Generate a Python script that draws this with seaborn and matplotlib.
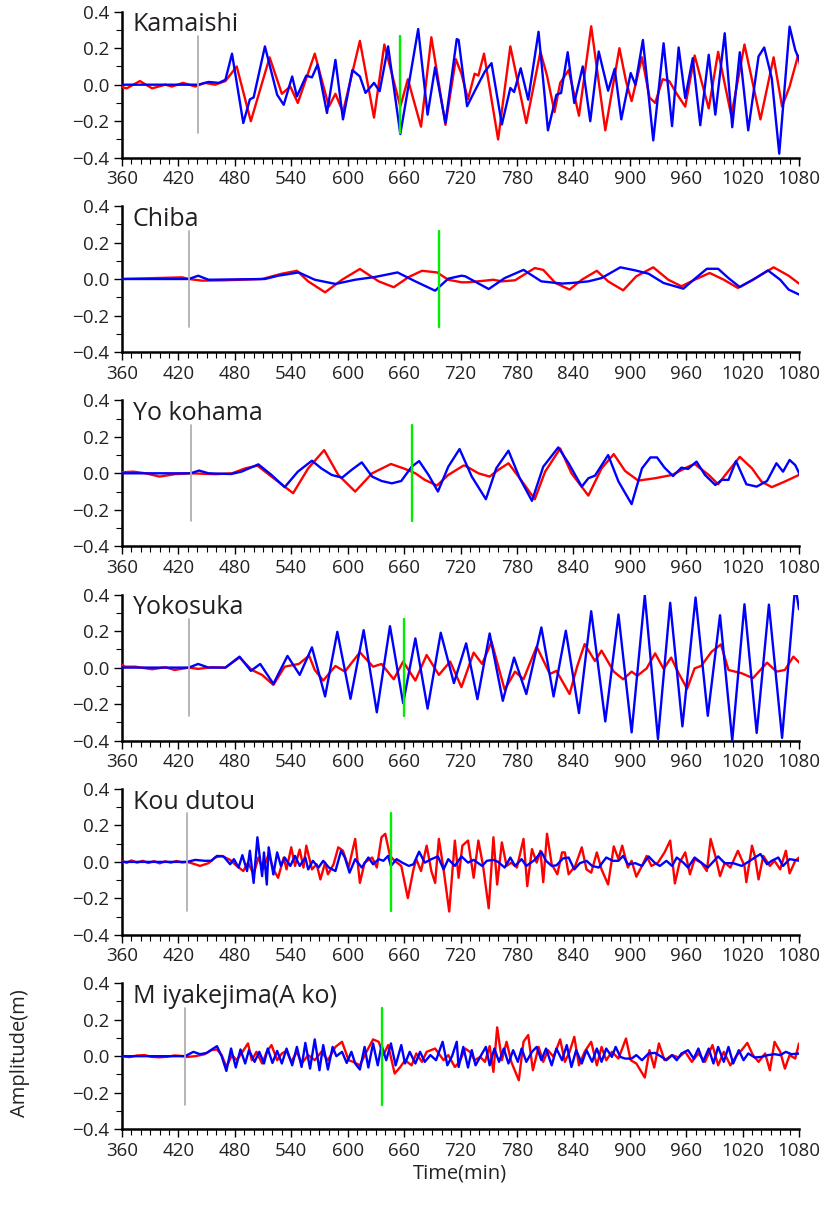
import matplotlib
matplotlib.use("Agg")
import matplotlib.pyplot as plt
import seaborn as sns
import pandas as pd
from matplotlib.ticker import MultipleLocator

sns.set_theme(style="white")
plt.rcParams['font.family'] = ['Open Sans', 'DejaVu Sans']

stations = ["Kamaishi", "Chiba", "Yo kohama", "Yokosuka", "Kou dutou", "M iyakejima(A ko)"]
gray_time = [441, 431, 433, 431, 429, 427]
green_time = [656, 697, 668, 660, 646, 637]
marker_half = [0.265, 0.262, 0.262, 0.264, 0.268, 0.266]

# ---- Kamaishi ----
kamaishi_red_t = [358, 365, 379, 392, 406, 413, 425, 438, 448, 459, 470, 482, 497, 517, 530, 539, 547, 565, 580, 587, 595,
                  613, 628, 639, 656, 664, 678, 689, 704, 715, 721, 728, 735, 739, 745, 760, 773, 790, 805, 812, 820, 826,
                  835, 846, 859, 874, 889, 896, 902, 913, 921, 927, 935, 942, 950, 959, 969, 984, 994, 1008, 1022, 1039,
                  1053, 1062, 1070, 1079, 1081]
kamaishi_red_v = [-0.01, -0.02, 0.02, -0.02, 0.0, -0.01, 0.01, -0.01, 0.01, 0.0, 0.02, 0.10, -0.20, 0.15, -0.05, -0.01, -0.10,
                  0.17, -0.12, -0.05, -0.15, 0.24, -0.18, 0.22, -0.12, 0.03, -0.23, 0.26, -0.22, 0.14, 0.06, -0.08, 0.06,
                  0.05, 0.17, -0.30, 0.21, -0.21, 0.18, 0.05, -0.15, 0.01, 0.08, -0.17, 0.32, -0.25, 0.20, 0.02, -0.09,
                  0.15, -0.07, -0.10, 0.03, 0.02, -0.05, -0.12, 0.16, -0.13, 0.18, -0.17, 0.22, -0.19, 0.15, -0.12, -0.01,
                  0.16, 0.11]
kamaishi_blue_t = [360, 441, 452, 463, 470, 477, 489, 496, 500, 512, 525, 532, 541, 546, 556, 562, 568, 578, 587, 595, 605,
                   613, 619, 628, 634, 643, 656, 675, 685, 693, 704, 716, 718, 727, 735, 746, 753, 764, 773, 777, 784, 792,
                   803, 813, 822, 827, 834, 841, 850, 858, 867, 877, 884, 891, 901, 906, 914, 925, 936, 945, 952, 959, 967,
                   975, 984, 991, 1001, 1009, 1017, 1026, 1037, 1043, 1051, 1059, 1070, 1076, 1081]
kamaishi_blue_v = [0.0, 0.0, 0.015, 0.01, 0.027, 0.17, -0.21, -0.08, -0.07, 0.21, -0.055, -0.11, 0.045, -0.064, 0.05, 0.04,
                   0.11, -0.155, 0.136, -0.19, 0.08, 0.045, -0.045, 0.01, -0.036, 0.21, -0.27, 0.305, -0.164, 0.095, -0.209,
                   0.25, 0.245, -0.118, -0.036, 0.073, 0.118, -0.218, -0.018, -0.04, 0.09, -0.082, 0.29, -0.25, -0.055,
                   -0.045, 0.178, -0.1, 0.1, -0.2, 0.182, -0.033, 0.087, -0.19, 0.064, 0.0, 0.245, -0.305, 0.227, -0.227,
                   0.204, -0.073, 0.145, -0.222, 0.164, -0.164, 0.282, -0.233, 0.178, -0.25, 0.155, 0.204, 0.036, -0.378,
                   0.318, 0.19, 0.127]

# ---- Chiba ----
chiba_red_t = [360, 395, 424, 431, 445, 470, 509, 530, 546, 558, 576, 594, 613, 633, 649, 665, 679, 695, 707, 721, 728, 746,
               755, 764, 778, 799, 808, 821, 836, 849, 865, 877, 893, 907, 925, 941, 955, 969, 985, 1000, 1015, 1031, 1053,
               1069, 1080]
chiba_red_v = [0.0, 0.005, 0.009, 0.0, -0.009, -0.007, 0.0, 0.029, 0.045, -0.013, -0.073, -0.004, 0.055, -0.013, -0.045,
               0.011, 0.045, 0.036, -0.004, -0.018, -0.018, -0.009, -0.004, -0.013, -0.007, 0.06, 0.05, -0.022, -0.058,
               -0.004, 0.045, -0.013, -0.062, 0.015, 0.064, -0.004, -0.04, -0.004, 0.033, -0.004, -0.049, -0.004, 0.064,
               0.018, -0.025]
chiba_blue_t = [360, 431, 441, 452, 512, 526, 548, 565, 587, 608, 629, 653, 672, 693, 707, 721, 725, 735, 750, 767, 787, 806,
                828, 838, 856, 870, 890, 906, 920, 936, 957, 968, 982, 994, 1005, 1017, 1031, 1047, 1060, 1069, 1080]
chiba_blue_v = [0.0, 0.0, 0.018, -0.004, 0.0, 0.018, 0.036, -0.004, -0.027, -0.004, 0.011, 0.036, -0.013, -0.064, 0.002,
                0.018, 0.015, -0.013, -0.055, 0.005, 0.05, -0.013, -0.025, -0.022, -0.013, 0.005, 0.064, 0.047, 0.029,
                -0.022, -0.053, -0.004, 0.056, 0.056, 0.005, -0.044, -0.004, 0.047, -0.004, -0.058, -0.085]

# ---- Yokohama ----
yokohama_red_t = [358, 372, 385, 400, 416, 433, 459, 477, 491, 504, 519, 542, 558, 575, 590, 608, 626, 646, 661, 672, 682,
                  695, 707, 723, 725, 739, 751, 760, 771, 783, 799, 810, 826, 838, 856, 870, 883, 895, 909, 927, 945, 962,
                  969, 984, 994, 1003, 1017, 1030, 1040, 1051, 1065, 1080]
yokohama_red_v = [0.005, 0.009, 0.0, -0.018, -0.005, 0.0, -0.005, 0.0, 0.027, 0.042, -0.018, -0.109, 0.027, 0.127, -0.009,
                  -0.1, 0.0, 0.051, 0.024, 0.0, -0.036, -0.067, -0.009, 0.042, 0.042, 0.0, -0.018, 0.018, 0.055, -0.027,
                  -0.142, 0.009, 0.136, 0.0, -0.122, 0.027, 0.105, 0.013, -0.04, -0.027, -0.009, 0.036, 0.051, -0.009,
                  -0.06, 0.0, 0.09, 0.027, -0.045, -0.076, -0.045, -0.009]
yokohama_blue_t = [360, 433, 442, 452, 476, 487, 505, 519, 533, 547, 562, 572, 583, 594, 604, 615, 626, 636, 647, 657, 668,
                   676, 686, 696, 707, 719, 732, 747, 758, 771, 783, 796, 808, 824, 835, 849, 856, 863, 877, 888, 902, 913,
                   922, 929, 937, 946, 955, 962, 971, 980, 991, 998, 1005, 1013, 1024, 1035, 1046, 1056, 1063, 1070, 1076,
                   1081]
yokohama_blue_v = [0.0, 0.0, 0.015, 0.0, -0.004, 0.009, 0.049, -0.009, -0.076, 0.009, 0.069, 0.027, -0.009, -0.024, 0.018,
                   0.06, -0.018, -0.042, -0.055, -0.042, 0.036, 0.067, -0.009, -0.1, 0.036, 0.133, -0.018, -0.142, 0.027,
                   0.124, -0.027, -0.151, 0.036, 0.142, 0.055, -0.073, -0.027, -0.013, 0.1, -0.045, -0.169, 0.027, 0.087,
                   0.087, 0.031, -0.015, 0.031, 0.024, 0.064, -0.009, -0.064, -0.036, -0.036, 0.067, -0.06, -0.073,
                   -0.042, 0.055, 0.009, 0.073, 0.045, -0.009]

# ---- Yokosuka ----
yokosuka_red_t = [358, 363, 374, 392, 406, 416, 431, 441, 455, 470, 485, 498, 509, 521, 533, 548, 559, 565, 574, 587, 597,
                  613, 627, 636, 649, 659, 672, 684, 697, 709, 721, 734, 743, 753, 767, 778, 787, 801, 815, 822, 836, 844,
                  852, 863, 870, 883, 893, 902, 908, 918, 927, 936, 944, 952, 961, 969, 976, 987, 997, 1005, 1019, 1031,
                  1046, 1056, 1065, 1074, 1081]
yokosuka_red_v = [0.024, 0.005, 0.005, -0.009, 0.002, -0.013, 0.0, -0.007, 0.002, 0.0, 0.056, -0.013, -0.04, -0.095, 0.005,
                  0.02, 0.065, -0.013, -0.071, 0.009, -0.022, 0.084, 0.005, 0.02, -0.064, 0.033, -0.071, 0.069, -0.04,
                  0.033, -0.107, 0.082, 0.02, 0.142, -0.122, -0.022, -0.064, 0.115, -0.035, -0.018, -0.145, 0.005, 0.129,
                  0.036, 0.093, -0.022, -0.064, -0.022, -0.045, -0.004, 0.078, -0.007, 0.055, -0.031, -0.116, -0.004,
                  0.009, 0.087, 0.127, -0.013, -0.031, -0.058, 0.027, -0.022, -0.013, 0.06, 0.024]
yokosuka_blue_t = [360, 431, 441, 452, 470, 485, 497, 507, 521, 536, 549, 562, 576, 589, 603, 617, 631, 645, 659, 672, 685,
                   699, 713, 726, 738, 751, 765, 777, 790, 806, 819, 832, 846, 859, 874, 888, 902, 916, 930, 943, 956, 970,
                   983, 996, 1009, 1022, 1035, 1048, 1062, 1076, 1080]
yokosuka_blue_v = [0.0, 0.0, 0.02, 0.0, 0.0, 0.06, -0.018, 0.02, -0.089, 0.064, -0.04, 0.111, -0.158, 0.196, -0.171, 0.205,
                   -0.245, 0.227, -0.195, 0.16, -0.225, 0.191, -0.085, 0.133, -0.173, 0.187, -0.182, 0.055, -0.145, 0.22,
                   -0.158, 0.202, -0.249, 0.309, -0.295, 0.291, -0.355, 0.396, -0.391, 0.355, -0.322, 0.384, -0.264,
                   0.287, -0.4, 0.347, -0.358, 0.345, -0.385, 0.45, 0.32]

# ---- Koudutou ----
koudutou_red_t = [360, 365, 370, 376, 382, 388, 394, 400, 406, 412, 418, 424, 429, 434, 443, 452, 459, 466, 475, 482, 489,
                  494, 500, 505, 510, 516, 521, 526, 532, 535, 540, 544, 549, 553, 556, 562, 567, 571, 576, 579, 585, 590,
                  595, 601, 608, 613, 618, 626, 631, 636, 640, 645, 650, 657, 664, 670, 673, 678, 684, 689, 693, 697, 702,
                  708, 714, 718, 722, 728, 734, 739, 744, 750, 755, 759, 764, 769, 774, 780, 787, 791, 796, 801, 805, 808,
                  812, 817, 823, 828, 831, 835, 842, 849, 854, 859, 865, 870, 877, 883, 888, 892, 898, 902, 907, 913, 918,
                  923, 930, 937, 943, 948, 953, 959, 964, 969, 976, 982, 986, 991, 996, 1001, 1007, 1015, 1022, 1024, 1030,
                  1033, 1037, 1042, 1049, 1054, 1060, 1066, 1070, 1076, 1080]
koudutou_red_v = [0.005, -0.005, 0.008, -0.004, 0.006, -0.006, 0.004, -0.008, 0.003, -0.004, 0.005, -0.003, 0.0, -0.007,
                  -0.022, -0.007, 0.024, 0.033, 0.011, -0.022, -0.05, -0.004, -0.068, 0.024, -0.041, 0.043, -0.041, -0.087,
                  0.024, -0.041, 0.08, -0.022, 0.067, -0.031, 0.089, -0.041, -0.013, -0.096, -0.004, -0.068, -0.013, 0.08,
                  0.061, -0.031, 0.126, -0.115, -0.004, 0.024, -0.031, 0.135, 0.154, 0.033, 0.006, -0.022, -0.198, -0.041,
                  0.015, -0.05, 0.089, -0.05, -0.115, 0.126, -0.041, -0.272, 0.117, -0.087, 0.089, 0.117, -0.087, 0.117,
                  -0.022, -0.254, 0.135, -0.124, 0.107, -0.022, -0.004, -0.031, 0.126, -0.133, 0.07, -0.004, 0.061,
                  -0.111, 0.154, -0.013, -0.068, 0.052, 0.052, -0.068, -0.022, 0.08, -0.041, -0.059, 0.052, -0.041,
                  -0.124, 0.085, 0.015, 0.089, -0.031, 0.006, -0.081, -0.022, 0.033, -0.022, -0.004, 0.052, 0.117, -0.118,
                  -0.004, 0.052, -0.068, 0.015, -0.004, -0.05, 0.126, 0.033, -0.078, -0.004, -0.031, 0.061, -0.022,
                  -0.111, 0.089, 0.033, -0.096, 0.033, -0.022, 0.006, -0.041, 0.061, -0.063, 0.006, 0.024]
koudutou_blue_t = [360, 429, 438, 448, 455, 461, 468, 475, 479, 484, 488, 493, 496, 500, 504, 509, 511, 514, 516, 521, 525,
                   529, 533, 539, 544, 549, 555, 558, 563, 569, 574, 580, 587, 593, 597, 602, 608, 615, 622, 627, 633, 638,
                   643, 646, 652, 658, 665, 670, 676, 682, 689, 696, 702, 707, 714, 721, 728, 734, 743, 748, 755, 760, 767,
                   773, 778, 785, 790, 799, 806, 811, 817, 822, 829, 835, 841, 847, 854, 860, 867, 875, 882, 888, 893, 898,
                   906, 913, 920, 927, 932, 939, 945, 950, 957, 962, 969, 976, 983, 994, 1001, 1010, 1019, 1026, 1033,
                   1039, 1046, 1051, 1058, 1063, 1070, 1081]
koudutou_blue_v = [0.0, 0.0, 0.011, 0.006, 0.006, 0.033, 0.03, -0.013, 0.015, -0.031, 0.037, -0.05, 0.061, -0.115, 0.135,
                   -0.078, 0.052, -0.124, 0.08, -0.069, 0.052, -0.022, 0.024, -0.022, 0.033, -0.022, 0.024, -0.041, 0.006,
                   -0.031, 0.006, -0.031, -0.05, 0.061, 0.024, -0.059, 0.015, -0.031, 0.024, -0.013, 0.015, 0.006, 0.033,
                   -0.022, 0.015, -0.004, -0.022, -0.013, 0.056, -0.004, 0.015, 0.03, -0.041, 0.015, -0.022, 0.03, -0.004,
                   0.011, -0.022, 0.006, 0.011, 0.0, -0.031, 0.024, -0.022, 0.015, -0.022, 0.011, 0.056, 0.006, -0.022,
                   -0.019, 0.019, 0.024, -0.041, -0.007, 0.006, -0.022, -0.031, 0.024, 0.006, 0.006, 0.033, -0.013, -0.007,
                   -0.022, 0.03, -0.007, -0.022, 0.006, -0.022, 0.024, -0.004, -0.031, 0.024, -0.004, -0.031, 0.03, -0.007,
                   -0.007, -0.022, 0.0, 0.024, 0.043, -0.013, 0.006, 0.024, -0.022, 0.015, 0.006]

# ---- Miyakejima ----
miyake_red_t = [360, 368, 376, 384, 392, 400, 408, 416, 427, 429, 438, 448, 455, 461, 466, 471, 477, 482, 487, 494, 498,
                503, 509, 514, 519, 525, 530, 535, 540, 546, 551, 558, 565, 572, 579, 587, 594, 601, 606, 613, 620, 627,
                633, 638, 643, 650, 656, 661, 668, 673, 679, 684, 693, 702, 707, 714, 719, 725, 730, 735, 741, 746, 751,
                755, 759, 764, 769, 774, 782, 787, 792, 797, 803, 808, 813, 819, 826, 831, 836, 841, 846, 852, 859, 865,
                870, 875, 881, 888, 896, 901, 907, 916, 921, 926, 931, 937, 945, 952, 959, 966, 973, 980, 988, 994, 1000,
                1007, 1014, 1019, 1025, 1031, 1037, 1044, 1049, 1054, 1060, 1065, 1070, 1076, 1080]
miyake_red_v = [0.0, -0.005, 0.004, 0.006, -0.004, -0.006, -0.003, 0.004, 0.0, -0.004, 0.0, 0.011, 0.033, 0.037, 0.006,
                -0.059, 0.006, -0.022, 0.015, 0.07, -0.022, 0.024, -0.04, 0.024, 0.061, -0.022, 0.015, 0.029, -0.031,
                0.024, -0.04, 0.006, -0.022, 0.024, -0.022, 0.051, 0.079, -0.022, -0.031, -0.05, 0.024, 0.092, 0.079,
                0.006, 0.061, -0.095, -0.059, -0.022, -0.05, 0.015, -0.031, 0.024, 0.042, -0.022, 0.006, -0.059, -0.031,
                0.042, 0.024, -0.022, -0.004, -0.031, 0.055, -0.086, 0.158, -0.022, 0.079, -0.031, -0.132, 0.079, 0.116,
                -0.077, 0.051, -0.031, 0.033, -0.004, 0.092, -0.031, 0.024, 0.106, -0.05, 0.024, 0.079, -0.05, 0.051,
                -0.022, 0.024, -0.013, 0.097, -0.022, -0.04, -0.117, 0.033, -0.062, 0.07, -0.022, 0.006, -0.007, 0.024,
                -0.031, 0.015, -0.031, 0.061, -0.05, 0.024, -0.05, 0.006, 0.033, 0.073, 0.006, -0.031, 0.015, -0.077,
                0.079, 0.024, -0.068, 0.006, -0.013, 0.07]
miyake_blue_t = [360, 427, 436, 443, 450, 457, 461, 466, 471, 476, 481, 486, 491, 495, 501, 506, 511, 515, 520, 525, 530,
                 535, 541, 546, 551, 555, 560, 565, 570, 574, 579, 584, 588, 594, 599, 604, 608, 613, 618, 622, 627, 632,
                 636, 641, 646, 651, 657, 661, 666, 672, 677, 682, 688, 694, 701, 706, 711, 716, 718, 723, 728, 732, 736,
                 742, 747, 751, 756, 761, 766, 771, 776, 781, 785, 790, 796, 801, 806, 811, 817, 822, 828, 833, 838, 843,
                 849, 854, 860, 865, 870, 875, 881, 885, 890, 895, 902, 907, 913, 920, 927, 934, 939, 945, 950, 955, 962,
                 968, 973, 978, 984, 989, 994, 1000, 1005, 1010, 1016, 1021, 1026, 1033, 1040, 1047, 1054, 1060, 1066,
                 1072, 1081]
miyake_blue_v = [0.0, 0.0, 0.024, 0.011, 0.018, 0.042, 0.055, 0.0, -0.081, 0.042, -0.062, 0.037, -0.04, 0.033, -0.031, 0.024,
                 -0.04, 0.042, -0.037, 0.029, -0.04, 0.042, -0.05, 0.051, -0.059, 0.073, -0.068, 0.092, -0.077, 0.061,
                 -0.073, 0.051, 0.0, 0.024, -0.037, 0.024, -0.04, -0.073, 0.051, -0.062, 0.07, -0.05, 0.061, -0.022, 0.07,
                 -0.05, 0.061, -0.04, 0.024, -0.04, 0.024, -0.031, 0.006, -0.022, 0.079, -0.05, 0.0, 0.079, -0.059, 0.051,
                 -0.062, 0.033, -0.05, 0.006, 0.051, -0.05, 0.042, -0.031, 0.042, -0.04, 0.033, -0.031, 0.042, -0.031,
                 0.024, 0.051, -0.022, 0.042, -0.05, 0.042, -0.022, 0.061, -0.059, 0.033, -0.04, 0.033, -0.031, 0.042,
                 -0.031, 0.042, -0.004, 0.051, -0.004, -0.013, -0.013, 0.006, -0.022, 0.015, 0.018, -0.004, -0.022, 0.006,
                 -0.022, 0.015, 0.033, -0.013, 0.042, -0.031, 0.042, -0.04, 0.051, -0.031, 0.051, -0.04, 0.033, -0.022,
                 0.015, -0.007, -0.004, 0.006, 0.011, 0.006, 0.024, 0.011, 0.015]

red_series = [(kamaishi_red_t, kamaishi_red_v), (chiba_red_t, chiba_red_v), (yokohama_red_t, yokohama_red_v),
              (yokosuka_red_t, yokosuka_red_v), (koudutou_red_t, koudutou_red_v), (miyake_red_t, miyake_red_v)]
blue_series = [(kamaishi_blue_t, kamaishi_blue_v), (chiba_blue_t, chiba_blue_v), (yokohama_blue_t, yokohama_blue_v),
               (yokosuka_blue_t, yokosuka_blue_v), (koudutou_blue_t, koudutou_blue_v), (miyake_blue_t, miyake_blue_v)]

x_ticks = [360, 420, 480, 540, 600, 660, 720, 780, 840, 900, 960, 1020, 1080]
y_ticks = [-0.4, -0.2, 0.0, 0.2, 0.4]

W, H = 827, 1209
fig = plt.figure(figsize=(W / 100, H / 100), dpi=100)
left_px, right_px = 122, 799
top0, step, ax_h = 11.7, 194.3, 146

for i, name in enumerate(stations):
    top = top0 + i * step
    ax = fig.add_axes([left_px / W, 1 - (top + ax_h) / H, (right_px - left_px) / W, ax_h / H])
    rt, rv = red_series[i]
    bt, bv = blue_series[i]
    sns.lineplot(x=rt, y=rv, ax=ax, color="#ff0000", linewidth=1.7, sort=False, estimator=None, zorder=3)
    sns.lineplot(x=bt, y=bv, ax=ax, color="#0000ff", linewidth=1.7, sort=False, estimator=None, zorder=4)
    ax.plot([gray_time[i], gray_time[i]], [-marker_half[i], marker_half[i]], color="#b0b0b0", linewidth=1.3, zorder=5)
    ax.plot([green_time[i], green_time[i]], [-marker_half[i], marker_half[i]], color="#00ee00", linewidth=1.7, zorder=6)
    ax.set_xlim(360, 1080)
    ax.set_ylim(-0.4, 0.4)
    ax.set_xticks(x_ticks)
    ax.set_xticklabels([str(v) for v in x_ticks])
    ax.set_yticks(y_ticks)
    ax.set_yticklabels([f"{v:.1f}".replace("-", "\u2212") if v != 0 else "0.0" for v in y_ticks])
    ax.xaxis.set_minor_locator(MultipleLocator(10))
    ax.yaxis.set_minor_locator(MultipleLocator(0.1))
    ax.tick_params(axis="both", which="major", direction="out", length=6, width=1.0, color="black",
                   labelsize=13.5, labelcolor="#222222", bottom=True, left=True, pad=3)
    ax.tick_params(axis="both", which="minor", direction="out", length=4, width=0.8, color="black",
                   bottom=True, left=True)
    for s in ["top", "right"]:
        ax.spines[s].set_visible(False)
    for s in ["left", "bottom"]:
        ax.spines[s].set_visible(True)
        ax.spines[s].set_color("black")
        ax.spines[s].set_linewidth(1.8)
    ax.set_xlabel("")
    ax.set_ylabel("")
    ax.grid(False)
    ax.text(0.016, 0.995, name, transform=ax.transAxes, fontsize=18, color="#231f20", va="top", ha="left")

fig.text(460 / W, 1 - 1173 / H, "Time(min)", fontsize=14.5, color="#222222", ha="center", va="center")
fig.text(20 / W, 1 - 1053 / H, "Amplitude(m)", fontsize=14.5, color="#222222", ha="center", va="center", rotation=90)

fig.savefig("out.png", dpi=100, facecolor="white")
